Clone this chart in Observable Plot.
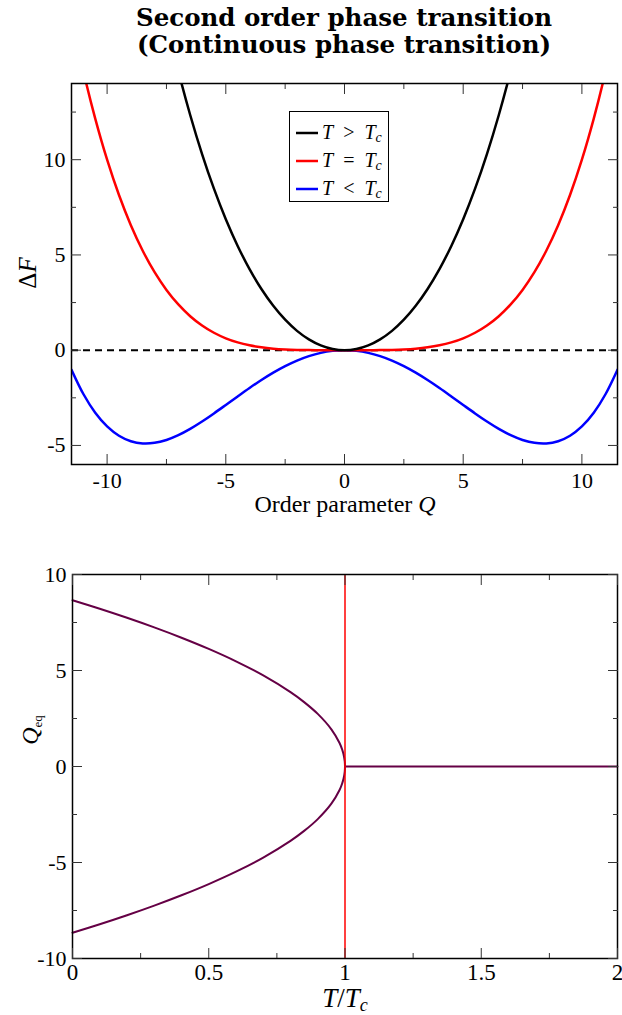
<!DOCTYPE html>
<html><head><meta charset="utf-8">
<script src="https://cdn.jsdelivr.net/npm/d3@7"></script>
<script src="https://cdn.jsdelivr.net/npm/@observablehq/plot@0.6"></script>
<style>
body{margin:0;background:#fff;width:622px;overflow:hidden;}
#title{height:60px;text-align:center;font-family:"DejaVu Serif";font-weight:bold;font-size:24.5px;line-height:27px;padding:4px 0 0 66px;box-sizing:border-box;color:#000;white-space:nowrap;}
svg{display:block}
svg text{font-family:"Liberation Serif","Times New Roman",Tinos,serif !important;}
</style></head><body>
<div id="title"><div>Second order phase transition</div><div>(Continuous phase transition)</div></div>
<div id="top"></div><div id="bottom"></div>
<script>
// ---- Top panel data: free energy ΔF versus order parameter Q ----
const qGrid = [-11.5,-11,-10.5,-10,-9.5,-9,-8.5,-8,-7.5,-7,-6.5,-6,-5.5,-5,-4.5,-4,-3.5,-3,-2.5,-2,-1.5,-1,-0.5,0,
               0.5,1,1.5,2,2.5,3,3.5,4,4.5,5,5.5,6,6.5,7,7.5,8,8.5,9,9.5,10,10.5,11,11.5];
const fEqual = [17.49,14.641,12.155,10,8.145,6.561,5.22,4.096,3.164,2.401,1.785,1.296,0.915,0.625,0.41,0.256,0.15,0.081,0.039,0.016,0.005,0.001,0.0001,0,
                0.0001,0.001,0.005,0.016,0.039,0.081,0.15,0.256,0.41,0.625,0.915,1.296,1.785,2.401,3.164,4.096,5.22,6.561,8.145,10,12.155,14.641,17.49];
const fBelow = [-1.025,-2.299,-3.28,-4.0,-4.49,-4.779,-4.895,-4.864,-4.711,-4.459,-4.13,-3.744,-3.32,-2.875,-2.425,-1.984,-1.565,-1.179,-0.836,-0.544,-0.31,-0.139,-0.035,0,
                -0.035,-0.139,-0.31,-0.544,-0.836,-1.179,-1.565,-1.984,-2.425,-2.875,-3.32,-3.744,-4.13,-4.459,-4.711,-4.864,-4.895,-4.779,-4.49,-4.0,-3.28,-2.299,-1.025];
const qAbove = [-8,-7.5,-7,-6.5,-6,-5.5,-5,-4.5,-4,-3.5,-3,-2.5,-2,-1.5,-1,-0.5,0,0.5,1,1.5,2,2.5,3,3.5,4,4.5,5,5.5,6,6.5,7,7.5,8];
const fAbove = [20.096,17.227,14.651,12.348,10.296,8.478,6.875,5.473,4.256,3.213,2.331,1.602,1.016,0.568,0.251,0.063,0,
                0.063,0.251,0.568,1.016,1.602,2.331,3.213,4.256,5.473,6.875,8.478,10.296,12.348,14.651,17.227,20.096];
const seriesNames = ["T > Tc","T = Tc","T < Tc"];
const seriesColors = ["#000000","#ff0000","#0000ff"];
const topXMajor = [-10,-5,0,5,10];
const topXMinor = [-7.5,-2.5,2.5,7.5];
const topYMajor = [-5,0,5,10];
const topYMinor = [-2.5,2.5,7.5,12.5];

// ---- Bottom panel data: equilibrium order parameter versus T/Tc ----
const tUpper = [0,0.1,0.2,0.3,0.4,0.5,0.6,0.7,0.8,0.85,0.9,0.95,0.98,0.99,0.995,0.999,1];
const qUpper = [8.660,8.216,7.746,7.246,6.708,6.124,5.477,4.743,3.873,3.354,2.739,1.936,1.225,0.866,0.612,0.274,0];
const tLower = [0,0.1,0.2,0.3,0.4,0.5,0.6,0.7,0.8,0.85,0.9,0.95,0.98,0.99,0.995,0.999,1];
const qLower = [-8.660,-8.216,-7.746,-7.246,-6.708,-6.124,-5.477,-4.743,-3.873,-3.354,-2.739,-1.936,-1.225,-0.866,-0.612,-0.274,0];
const tFlat = [1,2];
const qFlat = [0,0];
const tCritical = [1];
const botXMajor = [0,0.5,1,1.5,2];
const botXMinor = [0.25,0.75,1.25,1.75];
const botYMajor = [-10,-5,0,5,10];
const botYMinor = [-7.5,-2.5,2.5,7.5];

const SERIF = "Liberation Serif, Times New Roman, Tinos, serif";
const fmt = d => String(d);
const tickStroke = "#333";
function frameAxes(xMaj, xMin, yMaj, yMin, xFont, yFont, xPad) {
  const m = [];
  for (const anchor of ["bottom","top"]) {
    m.push(Plot.axisX(xMaj, {anchor, tickSize: -10, fill: "none", stroke: tickStroke, label: null}));
    m.push(Plot.axisX(xMin, {anchor, tickSize: -5, fill: "none", stroke: tickStroke, label: null}));
  }
  for (const anchor of ["left","right"]) {
    m.push(Plot.axisY(yMaj, {anchor, tickSize: -10, fill: "none", stroke: tickStroke, label: null}));
    m.push(Plot.axisY(yMin, {anchor, tickSize: -5, fill: "none", stroke: tickStroke, label: null}));
  }
  m.push(Plot.axisX(xMaj, {anchor: "bottom", tickSize: 0, tickPadding: xPad, tickFormat: fmt, label: null, fontSize: xFont, fontFamily: SERIF}));
  m.push(Plot.axisY(yMaj, {anchor: "left", tickSize: 0, tickPadding: 6, tickFormat: fmt, label: null, fontSize: yFont, fontFamily: SERIF}));
  return m;
}

// ---- Top plot ----
const lineData = (xs, ys, name) => xs.map((x, i) => ({x, y: ys[i], name}));
const topPlot = Plot.plot({
  width: 622, height: 459,
  marginTop: 23, marginLeft: 71, marginRight: 5, marginBottom: 55,
  x: {domain: [-11.5, 11.5]},
  y: {domain: [-6, 14]},
  style: {fontFamily: SERIF, fontSize: "22px", color: "#000", background: "#fff"},
  marks: [
    Plot.ruleY([0], {stroke: "#000", strokeWidth: 2, strokeDasharray: "7,5"}),
    Plot.line(lineData(qGrid, fBelow, seriesNames[2]), {x: "x", y: "y", stroke: seriesColors[2], strokeWidth: 2.5, curve: "catmull-rom", clip: true}),
    Plot.line(lineData(qGrid, fEqual, seriesNames[1]), {x: "x", y: "y", stroke: seriesColors[1], strokeWidth: 2.5, curve: "catmull-rom", clip: true}),
    Plot.line(lineData(qAbove, fAbove, seriesNames[0]), {x: "x", y: "y", stroke: seriesColors[0], strokeWidth: 2.5, curve: "catmull-rom", clip: true}),
    Plot.frame({stroke: "#000", strokeWidth: 1.5}),
    ...frameAxes(topXMajor, topXMinor, topYMajor, topYMinor, 22, 22, 8)
  ]
});
document.getElementById("top").appendChild(topPlot);

// ---- Bottom plot ----
const bottomPlot = Plot.plot({
  width: 622, height: 496,
  marginTop: 55, marginLeft: 72, marginRight: 5, marginBottom: 57,
  x: {domain: [0, 2]},
  y: {domain: [-10, 10]},
  style: {fontFamily: SERIF, fontSize: "22px", color: "#000", background: "#fff"},
  marks: [
    Plot.line(lineData(tUpper, qUpper, "upper"), {x: "x", y: "y", stroke: "#650045", strokeWidth: 2, curve: "catmull-rom"}),
    Plot.line(lineData(tLower, qLower, "lower"), {x: "x", y: "y", stroke: "#650045", strokeWidth: 2, curve: "catmull-rom"}),
    Plot.line(lineData(tFlat, qFlat, "flat"), {x: "x", y: "y", stroke: "#650045", strokeWidth: 2}),
    Plot.ruleX(tCritical, {stroke: "#ff0000", strokeWidth: 1.5}),
    Plot.frame({stroke: "#000", strokeWidth: 1.5}),
    ...frameAxes(botXMajor, botXMinor, botYMajor, botYMinor, 23, 22, 5)
  ]
});
document.getElementById("bottom").appendChild(bottomPlot);

// ---- Labels and legend (SVG text) ----
function addText(svg, x, y, parts, size, rotate) {
  const t = d3.select(svg).append("text")
    .attr("x", x).attr("y", y)
    .attr("text-anchor", "middle")
    .attr("font-family", SERIF)
    .attr("font-size", size)
    .attr("fill", "#000");
  if (rotate) t.attr("transform", `rotate(${rotate},${x},${y})`);
  for (const p of parts) {
    const s = t.append("tspan").text(p.text);
    if (p.italic) s.attr("font-style", "italic");
    if (p.sub) s.attr("dy", p.shift).attr("font-size", p.sub);
  }
  return t;
}
// top axis labels
addText(topPlot, 345, 452, [{text: "Order parameter "}, {text: "Q", italic: true}], 24);
addText(topPlot, 36, 213, [{text: "Δ"}, {text: "F", italic: true}], 25, -90);
// bottom axis labels
addText(bottomPlot, 345, 488, [{text: "T", italic: true}, {text: "/"}, {text: "T", italic: true}, {text: "c", italic: true, sub: 18, shift: 4}], 27);
addText(bottomPlot, 38, 211, [{text: "Q", italic: true}, {text: "eq", sub: 13, shift: 4}], 24, -90);

// legend
const lg = d3.select(topPlot).append("g");
lg.append("rect").attr("x", 289.5).attr("y", 51.5).attr("width", 99).attr("height", 90)
  .attr("fill", "#fff").attr("stroke", "#000").attr("stroke-width", 1);
seriesNames.forEach((name, i) => {
  const y = 73 + i * 28;
  lg.append("line").attr("x1", 296).attr("x2", 318).attr("y1", y).attr("y2", y)
    .attr("stroke", seriesColors[i]).attr("stroke-width", 2.5);
  const op = name.split(" ")[1];
  const t = lg.append("text").attr("x", 322).attr("y", y + 6)
    .attr("text-anchor", "start")
    .attr("font-family", SERIF).attr("font-size", 20).attr("fill", "#000");
  t.append("tspan").attr("font-style", "italic").text("T");
  t.append("tspan").text("  " + op + "  ");
  t.append("tspan").attr("font-style", "italic").text("T");
  t.append("tspan").attr("font-style", "italic").attr("dy", 3).attr("font-size", 14).text("c");
});
</script>
</body></html>
